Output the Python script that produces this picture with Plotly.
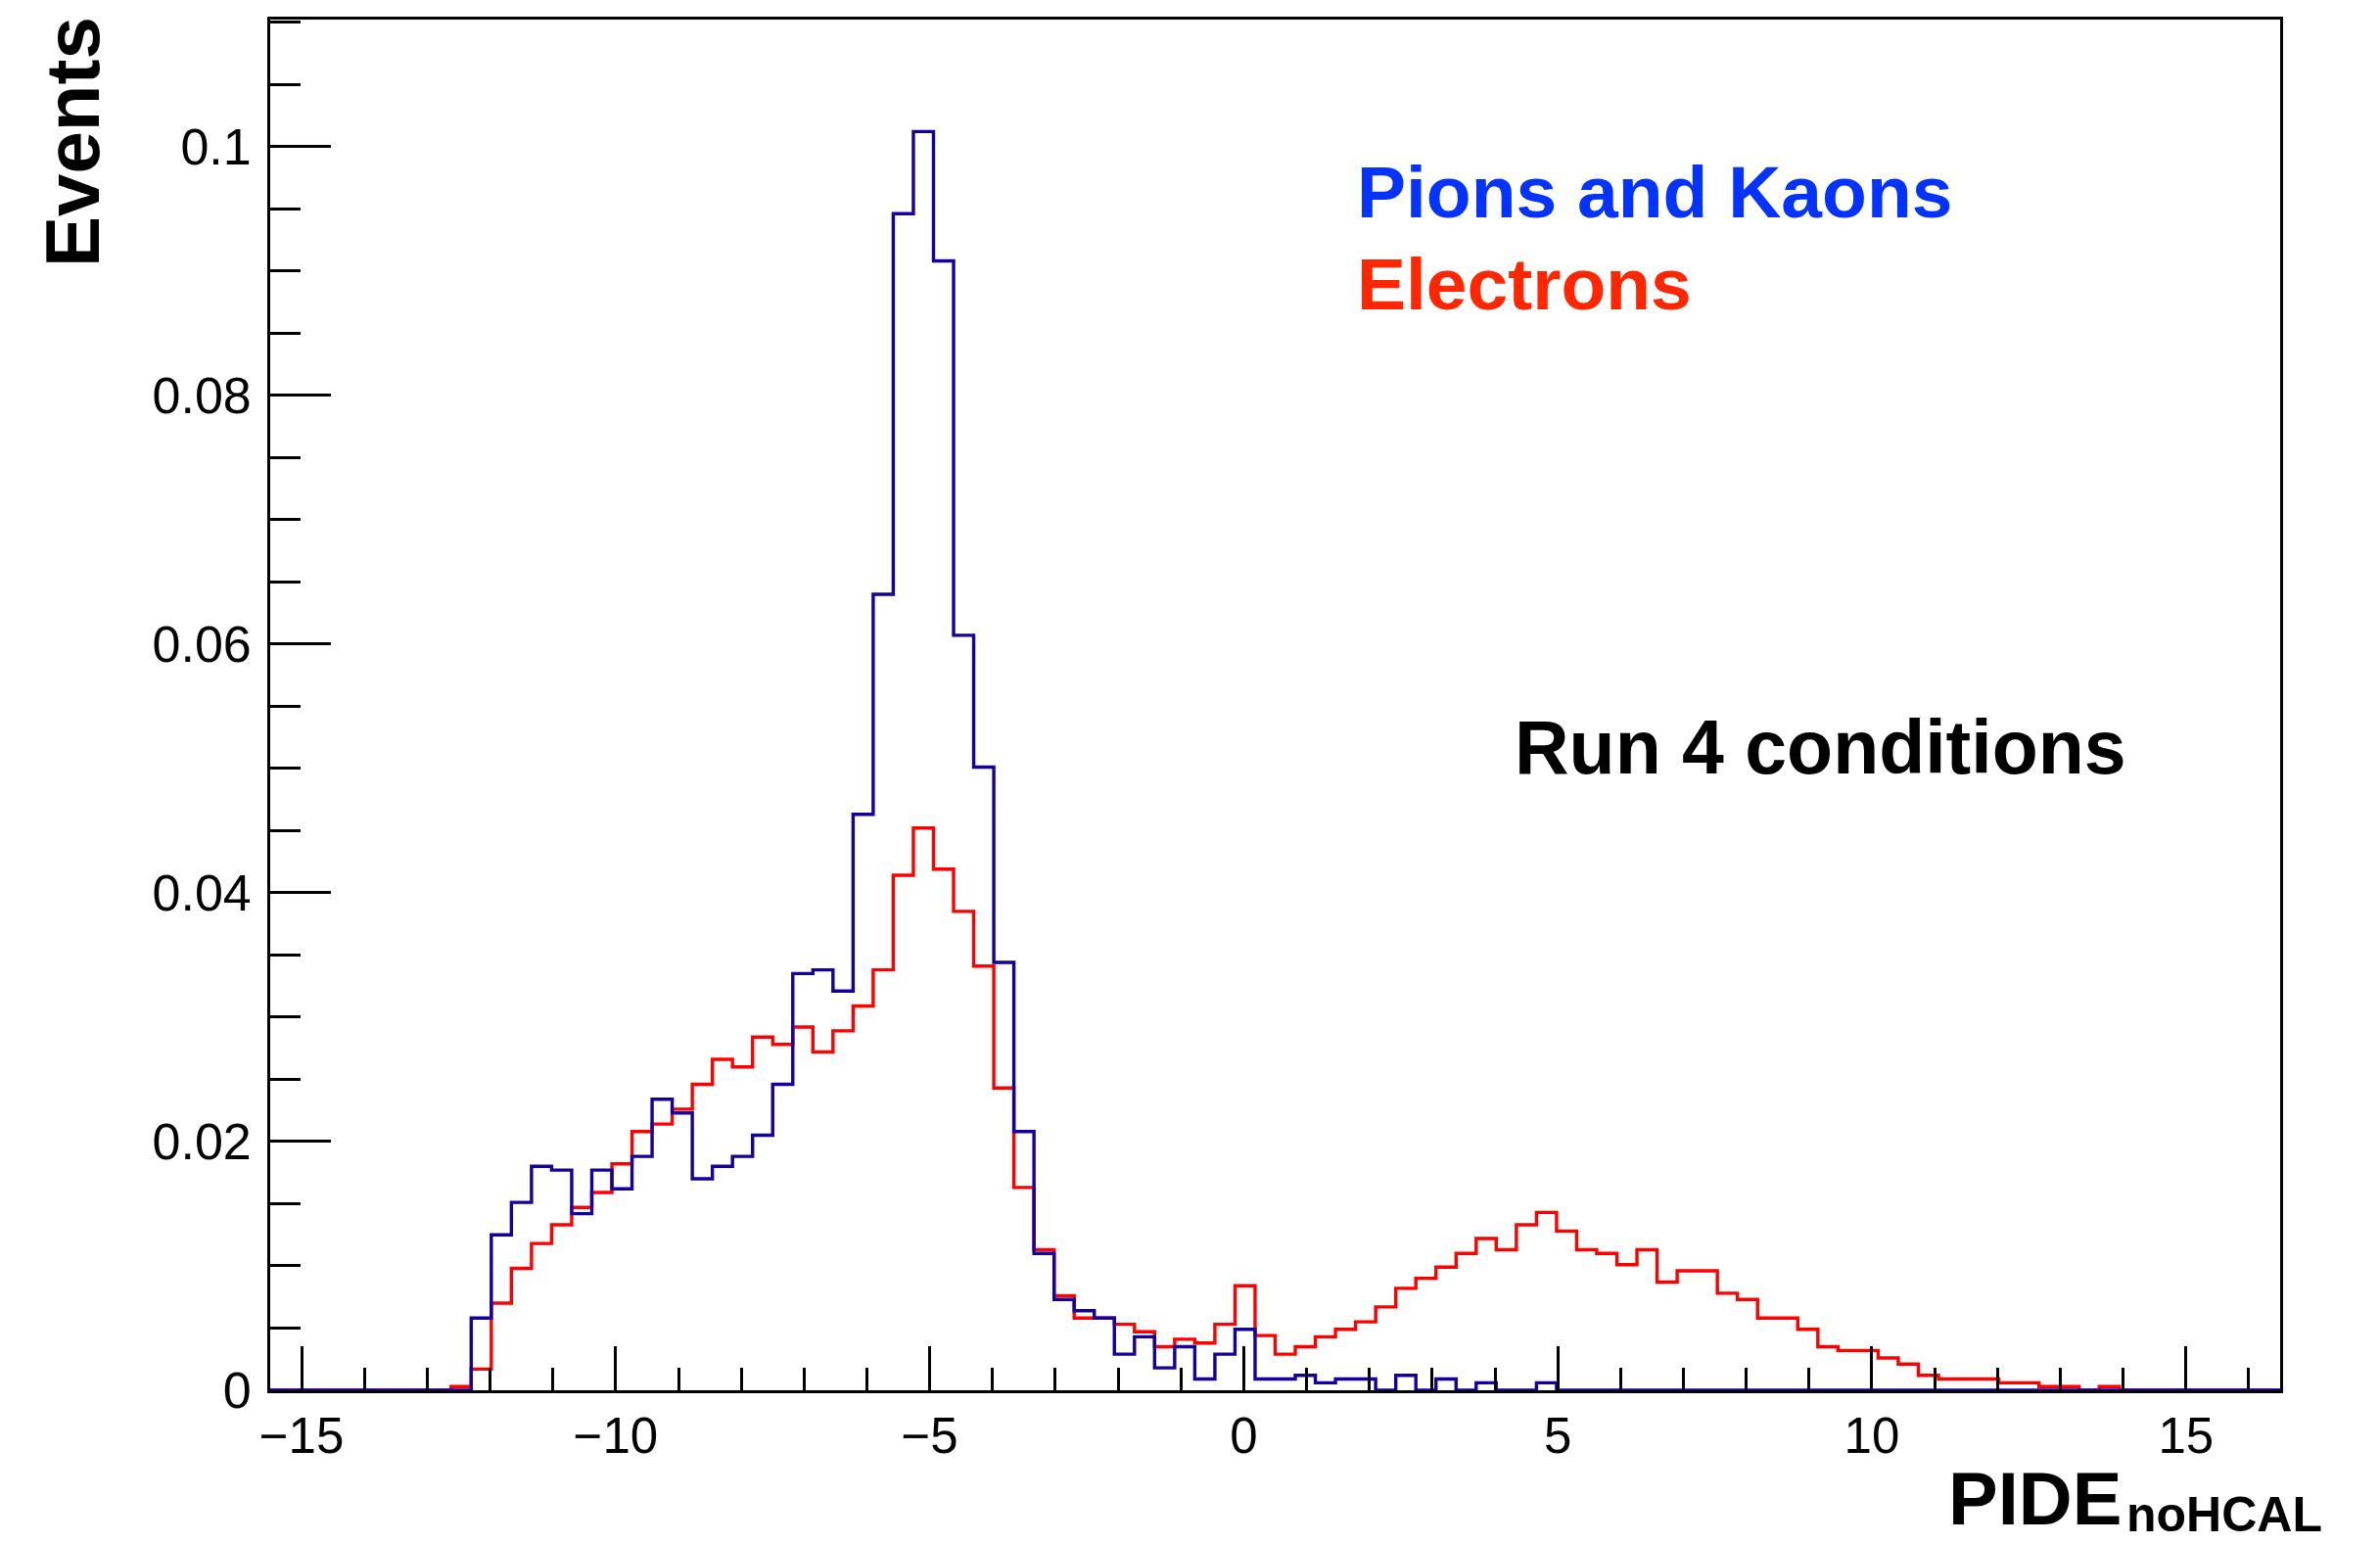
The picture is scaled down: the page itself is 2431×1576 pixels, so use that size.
import numpy as np
import plotly.graph_objects as go

# ---------------- data ----------------
N_BINS = 100
X_MIN, X_MAX = -15.5, 16.5
FIRST_BIN = 9  # index of first listed bin; all others are empty

pions_kaons = [
    0.0000, 0.0058, 0.0125, 0.0151, 0.0180, 0.0177, 0.0142, 0.0177, 0.0162, 0.0188,
    0.0234, 0.0223, 0.0170, 0.0180, 0.0188, 0.0205, 0.0246, 0.0335, 0.0338, 0.0321,
    0.0463, 0.0640, 0.0946, 0.1012, 0.0908, 0.0607, 0.0501, 0.0344, 0.0208, 0.0110,
    0.0073, 0.0064, 0.0058, 0.0029, 0.0043, 0.0018, 0.0035, 0.0009, 0.0029, 0.0049,
    0.0009, 0.0009, 0.0012, 0.0006, 0.0009, 0.0009, 0.0000, 0.0012, 0.0000, 0.0009,
    0.0000, 0.0006, 0.0000, 0.0000, 0.0006,
]

electrons = [
    0.0003, 0.0017, 0.0070, 0.0098, 0.0118, 0.0133, 0.0147, 0.0159, 0.0182, 0.0208,
    0.0214, 0.0226, 0.0246, 0.0266, 0.0260, 0.0284, 0.0278, 0.0292, 0.0272, 0.0289,
    0.0309, 0.0338, 0.0414, 0.0452, 0.0419, 0.0385, 0.0341, 0.0243, 0.0163, 0.0113,
    0.0076, 0.0058, 0.0058, 0.0053, 0.0047, 0.0035, 0.0041, 0.0038, 0.0053, 0.0084,
    0.0044, 0.0029, 0.0035, 0.0043, 0.0049, 0.0055, 0.0067, 0.0082, 0.0090, 0.0099,
    0.0110, 0.0122, 0.0113, 0.0133, 0.0143, 0.0128, 0.0113, 0.0110, 0.0101, 0.0113,
    0.0087, 0.0096, 0.0096, 0.0078, 0.0073, 0.0058, 0.0058, 0.0049, 0.0035, 0.0032,
    0.0032, 0.0026, 0.0021, 0.0012, 0.0009, 0.0009, 0.0009, 0.0006, 0.0006, 0.0003,
    0.0003, 0.0000, 0.0003,
]

y_tickvals = [0, 0.02, 0.04, 0.06, 0.08, 0.1]
y_ticktext = ["0", "0.02", "0.04", "0.06", "0.08", "0.1"]
x_tickvals = [-15, -10, -5, 0, 5, 10, 15]
x_ticktext = ["\u221215", "\u221210", "\u22125", "0", "5", "10", "15"]

# ---------------- histogram outlines ----------------
edges = np.linspace(X_MIN, X_MAX, N_BINS + 1)


def full_bins(vals):
    arr = np.zeros(N_BINS)
    arr[FIRST_BIN:FIRST_BIN + len(vals)] = vals
    return arr


def step_xy(vals):
    h = full_bins(vals)
    xs = np.append(edges[:-1], edges[-1])
    ys = np.append(h, h[-1])
    return xs, ys


BLUE = "#14009c"
RED = "#ff0000"
FONT = "Liberation Sans, Arial, Helvetica, sans-serif"

fig = go.Figure()
xe, ye = step_xy(electrons)
fig.add_trace(go.Scatter(x=xe, y=ye, mode="lines", line=dict(color=RED, width=3.4, shape="hv"),
                         hoverinfo="skip", showlegend=False))
xp, yp = step_xy(pions_kaons)
fig.add_trace(go.Scatter(x=xp, y=yp, mode="lines", line=dict(color=BLUE, width=3.4, shape="hv"),
                         hoverinfo="skip", showlegend=False))

W, H = 2431, 1576
L, R, T, B = 276, 102, 20, 156
PW, PH = W - L - R, H - T - B


def px(xf):
    return (xf - L) / PW


def py(yf):
    return (H - B - yf) / PH


fig.update_layout(
    width=W, height=H,
    margin=dict(l=L, r=R, t=T, b=B, pad=0),
    paper_bgcolor="white", plot_bgcolor="white",
    font=dict(family=FONT, color="black"),
    showlegend=False,
)

fig.update_xaxes(
    range=[X_MIN, X_MAX], showgrid=False, zeroline=False,
    showline=True, linecolor="black", linewidth=2.7, mirror=True,
    tickmode="array", tickvals=x_tickvals, ticktext=x_ticktext,
    ticks="inside", ticklen=45, tickwidth=2.5, tickcolor="black",
    minor=dict(ticks="inside", ticklen=23, tickwidth=2.5, tickcolor="black", dtick=1, tick0=0, showgrid=False),
    tickfont=dict(size=51, family=FONT, color="black"),
    ticklabelstandoff=0,
)
fig.update_yaxes(
    range=[0, 0.1102], showgrid=False, zeroline=False,
    showline=True, linecolor="black", linewidth=2.7, mirror=True,
    tickmode="array", tickvals=y_tickvals, ticktext=y_ticktext,
    ticks="inside", ticklen=62, tickwidth=2.5, tickcolor="black",
    minor=dict(ticks="inside", ticklen=31, tickwidth=2.5, tickcolor="black", dtick=0.005, tick0=0, showgrid=False),
    tickfont=dict(size=52, family=FONT, color="black"),
    ticklabelstandoff=6,
)

fig.add_annotation(text="<b>Pions and Kaons</b>", xref="paper", yref="paper",
                   x=px(1384), y=py(196), xanchor="left", yanchor="middle", showarrow=False,
                   font=dict(size=75, color="#0433FF", family=FONT))
fig.add_annotation(text="<b>Electrons</b>", xref="paper", yref="paper",
                   x=px(1384), y=py(290), xanchor="left", yanchor="middle", showarrow=False,
                   font=dict(size=75, color="#FF2600", family=FONT))
fig.add_annotation(text="<b>Run 4 conditions</b>", xref="paper", yref="paper",
                   x=px(1545), y=py(763), xanchor="left", yanchor="middle", showarrow=False,
                   font=dict(size=77, color="black", family=FONT))
fig.add_annotation(text="<b>Events</b>", xref="paper", yref="paper",
                   x=px(74), y=py(145), xanchor="center", yanchor="middle", showarrow=False,
                   textangle=-90, font=dict(size=78, color="black", family=FONT))
fig.add_annotation(text="<b>PIDE</b>", xref="paper", yref="paper",
                   x=px(1988), y=py(1530), xanchor="left", yanchor="middle", showarrow=False,
                   font=dict(size=76, color="black", family=FONT))
fig.add_annotation(text="<b>noHCAL</b>", xref="paper", yref="paper",
                   x=px(2170), y=py(1547), xanchor="left", yanchor="middle", showarrow=False,
                   font=dict(size=50, color="black", family=FONT))

fig.write_html("out.html")
